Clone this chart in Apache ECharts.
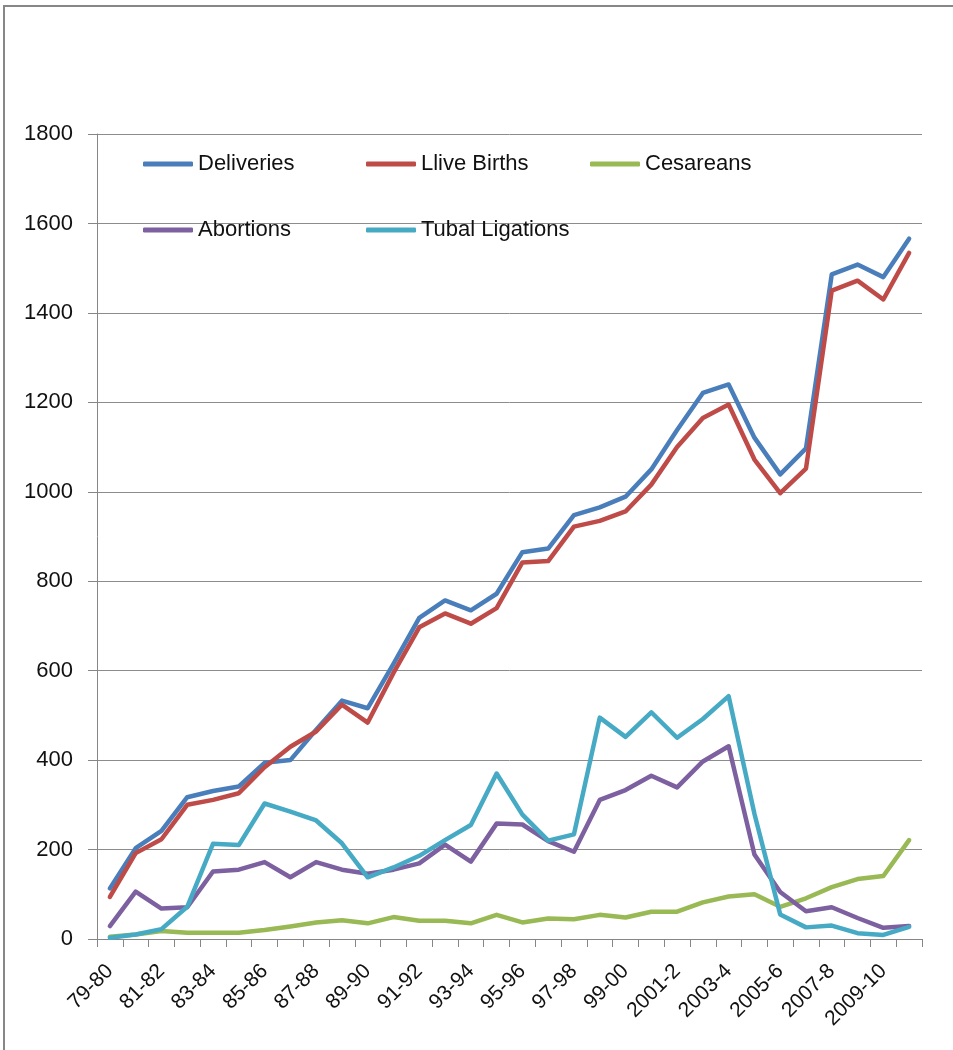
<!DOCTYPE html>
<html>
<head>
<meta charset="utf-8">
<script src="https://cdn.jsdelivr.net/npm/echarts@6/dist/echarts.min.js"></script>
<style>
html,body{margin:0;padding:0;background:#fff;}
#chart{width:953px;height:1050px;}
</style>
</head>
<body>
<div id="chart"></div>
<script>
const categories = ['79-80','80-81','81-82','82-83','83-84','84-85','85-86','86-87','87-88','88-89','89-90','90-91','91-92','92-93','93-94','94-95','95-96','96-97','97-98','98-99','99-00','2000-1','2001-2','2002-3','2003-4','2004-5','2005-6','2006-7','2007-8','2008-9','2009-10','2010-11'];
const deliveries = [113,203,242,317,331,341,394,400,468,533,516,615,718,757,735,772,865,873,948,965,989,1050,1138,1221,1240,1121,1039,1097,1486,1508,1480,1566];
const liveBirths = [94,192,223,300,311,326,384,430,464,524,484,595,697,728,705,740,842,845,922,935,956,1016,1100,1165,1195,1072,997,1052,1450,1472,1430,1534];
const cesareans = [5,10,18,14,14,14,20,28,37,42,35,49,41,41,35,54,37,46,44,54,48,61,61,82,95,100,72,91,116,134,141,221];
const abortions = [29,106,68,71,151,155,172,138,172,155,146,155,169,211,173,258,256,219,195,311,333,365,339,397,431,189,105,62,71,47,25,29];
const tubalLigations = [3,10,22,72,213,210,303,285,265,214,138,160,186,221,255,370,278,220,234,495,452,507,450,492,543,280,55,26,30,13,9,27];
const yTicks = {min:0, max:1800, interval:200};

const names = ['Deliveries','Llive Births','Cesareans','Abortions','Tubal Ligations'];
const colors = ['#4A7EBB','#BE4B48','#98B954','#7D60A0','#46AAC5'];
const datas = [deliveries, liveBirths, cesareans, abortions, tubalLigations];
const FONT = 'Liberation Sans, Arial, sans-serif';
// legend slot positions (left, top)
const legendSlots = [[143,153],[366,153],[590,153],[143,219],[366,219]];

const chart = echarts.init(document.getElementById('chart'), null, {renderer:'canvas'});
chart.setOption({
  animation:false,
  backgroundColor:'#fff',
  color:colors,
  graphic:[{type:'rect', shape:{x:4, y:6, width:1100, height:1200}, style:{fill:'none', stroke:'#878787', lineWidth:2}, silent:true}],
  legend: names.map((n,i)=>({
    left:legendSlots[i][0], top:legendSlots[i][1], padding:0,
    itemWidth:50, itemHeight:5, icon:'roundRect', selectedMode:false,
    textStyle:{fontFamily:FONT, fontSize:22, color:'#111'},
    data:[n]
  })),
  grid:{left:97, right:31, top:134, bottom:111, containLabel:false},
  xAxis:{
    type:'category', data:categories, boundaryGap:true,
    axisLine:{lineStyle:{color:'#868686', width:1}},
    axisTick:{show:true, length:8, interval:0, lineStyle:{color:'#868686'}},
    axisLabel:{interval:1, rotate:45, fontFamily:FONT, fontSize:21, color:'#111', margin:29}
  },
  yAxis:{
    type:'value', min:yTicks.min, max:yTicks.max, interval:yTicks.interval,
    axisLine:{show:true, lineStyle:{color:'#868686', width:1}},
    axisTick:{show:true, length:9, lineStyle:{color:'#868686'}},
    axisLabel:{fontFamily:FONT, fontSize:22, color:'#111', margin:24, formatter:(v)=>String(v)},
    splitLine:{lineStyle:{color:'#8c8c8c', width:1}}
  },
  series: datas.map((d,i)=>({
    name:names[i], type:'line', data:d, showSymbol:false, symbol:'none',
    lineStyle:{width:4.5, color:colors[i], cap:'round', join:'round'},
    itemStyle:{color:colors[i]}
  }))
});
</script>
</body>
</html>
